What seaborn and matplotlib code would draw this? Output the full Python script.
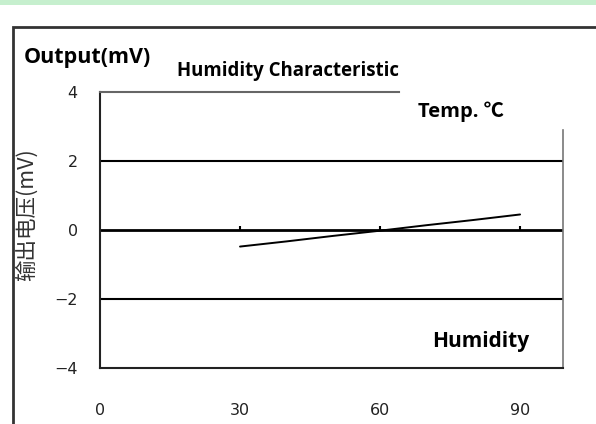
import matplotlib
matplotlib.use('Agg')
import matplotlib.pyplot as plt
from matplotlib.patches import Rectangle
import seaborn as sns

# humidity (%RH) vs sensor output (mV)
humidity = [30, 40, 50, 60, 70, 80, 90]
output_mv = [-0.48, -0.33, -0.17, -0.02, 0.14, 0.29, 0.45]
x_ticks = [0, 30, 60, 90]
y_ticks = [-4, -2, 0, 2, 4]
grid_levels = [-2, 0, 2]

sns.set_style('white')
plt.rcParams['font.family'] = ['DejaVu Sans']

W, H = 596, 424
fig = plt.figure(figsize=(W / 100, H / 100), dpi=100)
ax = fig.add_axes([100 / W, 56 / H, 463 / W, 276 / H])

sns.lineplot(x=humidity, y=output_mv, color='black', linewidth=1.4, ax=ax)

for lvl in grid_levels:
    ax.axhline(lvl, color='black', linewidth=2.0 if lvl == 0 else 1.5, zorder=1)

ax.set_xlim(0, 99.2)
ax.set_ylim(-4, 4)
ax.set_xticks(x_ticks)
ax.set_yticks(y_ticks)
ax.set_yticklabels([str(v).replace('-', '\u2212') for v in y_ticks])
ax.tick_params(axis='x', length=0, pad=25, labelsize=11.5, labelcolor='#222222')
ax.tick_params(axis='y', length=0, pad=16, labelsize=11.5, labelcolor='#222222')

for side in ['left', 'bottom']:
    ax.spines[side].set_color('#222222')
    ax.spines[side].set_linewidth(1.5)
ax.spines['top'].set_color('#666666')
ax.spines['top'].set_linewidth(1.5)
ax.spines['top'].set_bounds(0, 64)
ax.spines['right'].set_color('#777777')
ax.spines['right'].set_linewidth(1.2)
ax.spines['right'].set_bounds(-4, 2.9)

# small tick marks sitting on the zero line
sec = ax.secondary_xaxis(0.5)
sec.set_xticks(x_ticks[1:])
sec.tick_params(direction='out', length=3, width=1.5, color='black',
                labeltop=False, labelbottom=False)
sec.spines['top'].set_visible(False)
sec.spines['bottom'].set_visible(False)

ax.set_ylabel('输出电压(mV)', family=['Noto Sans CJK SC', 'DejaVu Sans'],
              fontsize=15.5, fontweight='light', color='#333333')
ax.yaxis.set_label_coords(-0.134, 0.555)

# page decorations
fig.patches.append(Rectangle((0, 1 - 5 / H), 1, 5 / H, transform=fig.transFigure,
                             facecolor='#c6efce', edgecolor='none'))
fig.patches.append(Rectangle((13 / W, -0.1), 1.2, (H - 27) / H + 0.1,
                             transform=fig.transFigure, facecolor='none',
                             edgecolor='#333333', linewidth=2))

bold = dict(family=['Open Sans', 'Noto Sans CJK SC', 'DejaVu Sans'],
            fontweight='bold', color='black')
fig.text(24 / W, 1 - 57 / H, 'Output(mV)', fontsize=15.5, va='center', **bold)
fig.text(177 / W, 1 - 71 / H, 'Humidity Characteristic', fontsize=13.4,
         va='center', **bold)
fig.text(418 / W, 1 - 112 / H, 'Temp. ℃', fontsize=14.5, va='center', **bold)
fig.text(432 / W, 1 - 342 / H, 'Humidity', fontsize=15, va='center', **bold)

fig.savefig('out.png', dpi=100)
